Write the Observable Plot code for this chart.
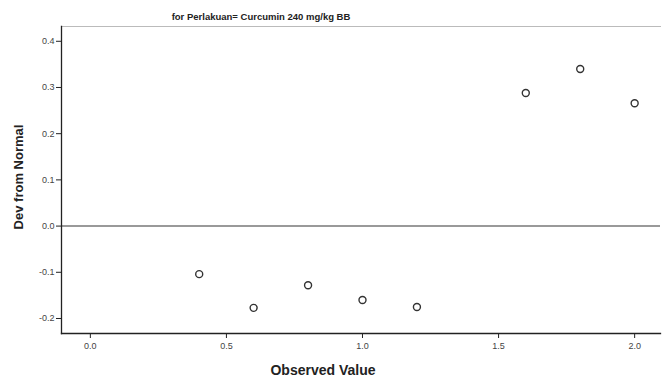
<!DOCTYPE html>
<html>
<head>
<meta charset="utf-8">
<script src="https://cdn.jsdelivr.net/npm/d3@7"></script>
<script src="https://cdn.jsdelivr.net/npm/@observablehq/plot@0.6"></script>
<style>
  html, body { margin: 0; padding: 0; background: #fff; }
  #chart { width: 662px; height: 381px; }
</style>
</head>
<body>
<div id="chart"></div>
<script>
const title = "for Perlakuan= Curcumin 240 mg/kg BB";
const xLabel = "Observed Value";
const yLabel = "Dev from Normal";
const observed = [0.4, 0.6, 0.8, 1.0, 1.2, 1.6, 1.8, 2.0];
const devFromNormal = [-0.104, -0.177, -0.128, -0.160, -0.175, 0.288, 0.340, 0.266];
const xTicks = [0.0, 0.5, 1.0, 1.5, 2.0];
const yTicks = [-0.2, -0.1, 0.0, 0.1, 0.2, 0.3, 0.4];

const data = observed.map((x, i) => ({x, y: devFromNormal[i]}));
const fmt = d => d.toFixed(1);
const font = "'Liberation Sans', Arial, sans-serif";

const chart = Plot.plot({
  width: 662,
  height: 381,
  marginLeft: 61,
  marginRight: 2,
  marginTop: 26,
  marginBottom: 48,
  style: {fontFamily: font, background: "#fff"},
  x: {domain: [-0.106, 2.095]},
  y: {domain: [-0.2325, 0.432]},
  marks: [
    Plot.frame({anchor: "top", stroke: "#bbb", strokeWidth: 1}),
    Plot.ruleY([0], {stroke: "#777", strokeWidth: 1.5}),
    Plot.axisX({ticks: xTicks, tickFormat: fmt, tickSize: 5, tickPadding: 4, fontSize: 9, color: "#444", label: null, stroke: "#222"}),
    Plot.axisY({ticks: yTicks, tickFormat: fmt, tickSize: 5, tickPadding: 2, fontSize: 9, color: "#444", label: null, stroke: "#222"}),
    Plot.frame({anchor: "left", stroke: "#222", strokeWidth: 1.3}),
    Plot.frame({anchor: "bottom", stroke: "#222", strokeWidth: 1.3}),
    Plot.dot(data, {x: "x", y: "y", r: 3.5, stroke: "#333", strokeWidth: 1.4, fill: "none"}),
    Plot.text([title], {frameAnchor: "top", dy: -13, dx: -100, fontSize: 9.5, fontWeight: "bold", fill: "#222"}),
    Plot.text([xLabel], {frameAnchor: "bottom", dy: 41, dx: -38, fontSize: 14, fontWeight: "bold", fill: "#222"}),
    Plot.text([yLabel], {frameAnchor: "left", textAnchor: "middle", dx: -43, dy: -3, rotate: -90, fontSize: 13, fontWeight: "bold", fill: "#222"})
  ]
});
document.getElementById("chart").appendChild(chart);
</script>
</body>
</html>
